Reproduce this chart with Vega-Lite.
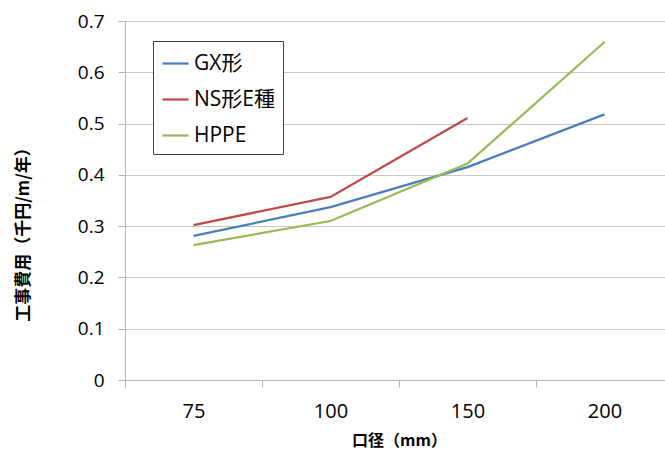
{
  "$schema": "https://vega.github.io/schema/vega-lite/v6.json",
  "autosize": "none",
  "width": 540,
  "height": 359,
  "padding": {"left": 125, "top": 21, "right": 0, "bottom": 71},
  "background": "white",
  "config": {
    "view": {"stroke": null},
    "font": "Open Sans, Noto Sans CJK JP",
    "axis": {"labelFont": "Open Sans, Noto Sans CJK JP", "titleFont": "Noto Sans CJK JP"},
    "legend": {"labelFont": "Open Sans, Noto Sans CJK JP"}
  },
  "data": {
    "values": [
      {"size": "75", "series": "GX形", "cost": 0.281},
      {"size": "100", "series": "GX形", "cost": 0.337},
      {"size": "150", "series": "GX形", "cost": 0.415},
      {"size": "200", "series": "GX形", "cost": 0.518},
      {"size": "75", "series": "NS形E種", "cost": 0.302},
      {"size": "100", "series": "NS形E種", "cost": 0.357},
      {"size": "150", "series": "NS形E種", "cost": 0.511},
      {"size": "75", "series": "HPPE", "cost": 0.263},
      {"size": "100", "series": "HPPE", "cost": 0.310},
      {"size": "150", "series": "HPPE", "cost": 0.422},
      {"size": "200", "series": "HPPE", "cost": 0.659}
    ]
  },
  "mark": {"type": "line", "strokeWidth": 2.25},
  "encoding": {
    "x": {
      "field": "size",
      "type": "ordinal",
      "sort": ["75", "100", "150", "200"],
      "scale": {"type": "band", "paddingInner": 0, "paddingOuter": 0, "range": [0, 548]},
      "axis": {
        "title": "口径（mm）",
        "titleFontSize": 16,
        "titleFontWeight": "bold",
        "titleColor": "#000",
        "titlePadding": 11,
        "labelAngle": 0,
        "labelFontSize": 20,
        "labelColor": "#000",
        "labelPadding": 14,
        "tickBand": "extent",
        "tickSize": 7,
        "tickColor": "#b4b4b4",
        "domainColor": "#b4b4b4",
        "grid": false
      }
    },
    "y": {
      "field": "cost",
      "type": "quantitative",
      "scale": {"domain": [0, 0.7], "nice": false},
      "axis": {
        "title": "工事費用（千円/m/年）",
        "titleFontSize": 17,
        "titleFontWeight": "bold",
        "titleColor": "#000",
        "titleX": -102,
        "titleY": 209,
        "titleAlign": "center",
        "titleBaseline": "middle",
        "titleAngle": -90,
        "values": [0, 0.1, 0.2, 0.3, 0.4, 0.5, 0.6, 0.7],
        "labelExpr": "datum.value == 0 ? '0' : format(datum.value, '.1f')",
        "labelFontSize": 19,
        "labelColor": "#000",
        "labelPadding": 14,
        "tickSize": 7,
        "tickColor": "#b4b4b4",
        "domainColor": "#b4b4b4",
        "grid": true,
        "gridColor": "#c8c8c8"
      }
    },
    "color": {
      "field": "series",
      "type": "nominal",
      "scale": {
        "domain": ["GX形", "NS形E種", "HPPE"],
        "range": ["#4a7ebb", "#be4b48", "#98b954"]
      },
      "legend": {
        "title": null,
        "orient": "none",
        "legendX": 28,
        "legendY": 20,
        "symbolType": "stroke",
        "symbolSize": 676,
        "symbolStrokeWidth": 2.25,
        "labelFontSize": 21,
        "labelColor": "#000",
        "labelOffset": 4,
        "rowPadding": 11,
        "padding": 8,
        "strokeColor": "#404040",
        "fillColor": "white"
      }
    }
  }
}
